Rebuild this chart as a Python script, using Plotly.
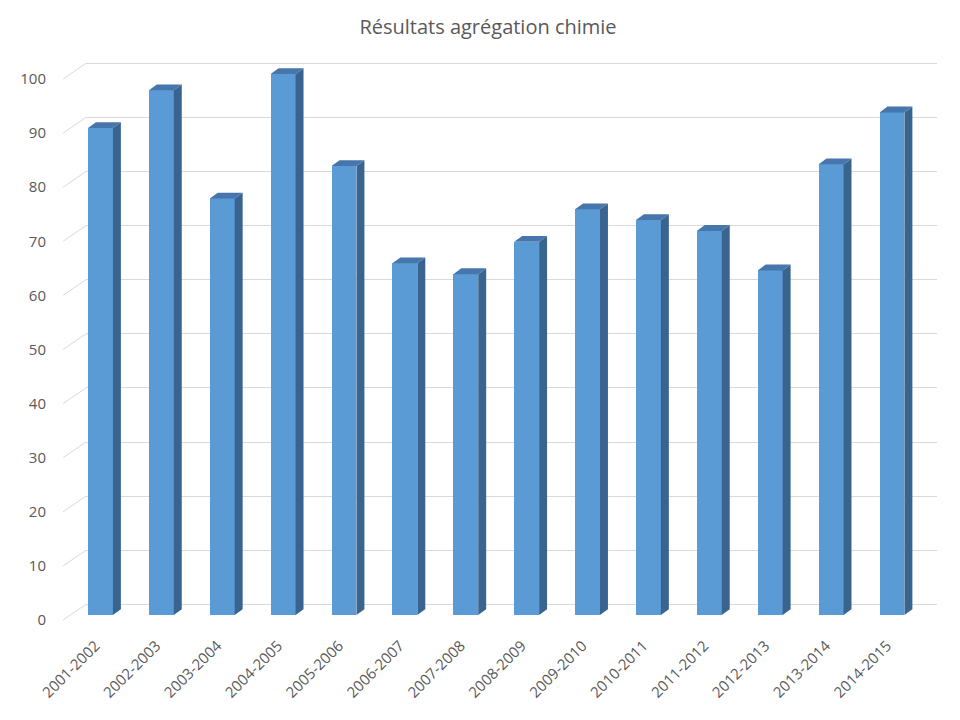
import plotly.graph_objects as go

# ---- data ----
categories = ["2001-2002", "2002-2003", "2003-2004", "2004-2005", "2005-2006",
              "2006-2007", "2007-2008", "2008-2009", "2009-2010", "2010-2011",
              "2011-2012", "2012-2013", "2013-2014", "2014-2015"]
values = [90, 97, 77, 100, 83, 65, 63, 69, 75, 73, 71, 63.7, 83.3, 92.9]
y_ticks = list(range(0, 101, 10))
title_text = "Résultats agrégation chimie"

# ---- geometry (pixel-based layout of the pseudo-3D look) ----
OFF = 8                      # page body margin offset
W, H = 960, 720
L = 83 - OFF
T = 55 - OFF
R = W - (937 - OFF)
B = H - (630 - OFF)
plot_w = W - L - R
plot_h = H - T - B
px_per_unit = 5.41          # vertical pixels per value unit
px_per_cat = 61.1           # horizontal pixels per category
bar_px = 25
depth_dx_px, depth_dy_px = 8, 5.8

bar_zero_px = 615 - OFF     # screen y of value 0 on the bar front face
back_zero_px = 604.3 - OFF  # back wall
front_zero_px = 620 - OFF   # front edge (labels)

def axis_range(zero_px):
    lo = -(T + plot_h - zero_px) / px_per_unit
    hi = (zero_px - T) / px_per_unit
    return [lo, hi]

x0_units = -(97.5 - OFF - L) / px_per_cat
x_range = [x0_units, x0_units + plot_w / px_per_cat]

xs = list(range(len(categories)))
bw = bar_px / px_per_cat
ddx = depth_dx_px / px_per_cat
ddy = depth_dy_px / px_per_unit
label_shift = 5 / px_per_cat

front_col = "#5B9BD5"
side_col = "#3A6490"
top_col = "#4676AB"

fig = go.Figure()

# back-wall gridlines (axis y2) and front labels (axis y3)
fig.add_trace(go.Scatter(x=[None], y=[None], yaxis="y2", showlegend=False, hoverinfo="skip"))
fig.add_trace(go.Scatter(x=[None], y=[None], yaxis="y3", showlegend=False, hoverinfo="skip"))

# side faces and top faces (computed from values)
side_x, side_y, top_x, top_y = [], [], [], []
for x, v in zip(xs, values):
    xr = x + bw / 2
    xl = x - bw / 2
    side_x += [xr, xr + ddx, xr + ddx, xr, xr, None]
    side_y += [0, ddy, v + ddy, v, 0, None]
    top_x += [xl, xr, xr + ddx, xl + ddx, xl, None]
    top_y += [v, v, v + ddy, v + ddy, v, None]

fig.add_trace(go.Scatter(x=side_x, y=side_y, mode="lines", fill="toself",
                         fillcolor=side_col, line=dict(width=0, color=side_col),
                         showlegend=False, hoverinfo="skip"))
fig.add_trace(go.Scatter(x=top_x, y=top_y, mode="lines", fill="toself",
                         fillcolor=top_col, line=dict(width=0, color=top_col),
                         showlegend=False, hoverinfo="skip"))
fig.add_trace(go.Bar(x=xs, y=values, width=bw, marker=dict(color=front_col, line=dict(width=0)),
                     showlegend=False, hovertext=categories))

# diagonal side-wall lines for each gridline
front_off = -(front_zero_px - bar_zero_px) / px_per_unit
back_off = (bar_zero_px - back_zero_px) / px_per_unit
for t in y_ticks:
    fig.add_shape(type="line", xref="paper", yref="y",
                  x0=-(L - (60 - OFF)) / plot_w, x1=0,
                  y0=t + front_off, y1=t + back_off,
                  line=dict(color="#D9D9D9", width=1), layer="below")

font_col = "#595959"
fig.update_layout(
    width=W, height=H,
    margin=dict(l=L, r=R, t=T, b=B),
    paper_bgcolor="white", plot_bgcolor="white",
    font=dict(family="Open Sans", color=font_col),
    title=dict(text=title_text, x=0.5, xanchor="center", y=1 - (27 - OFF) / H, yanchor="middle",
               font=dict(size=20, color=font_col, family="Open Sans")),
    bargap=0,
    xaxis=dict(range=x_range, tickvals=[x - label_shift for x in xs], ticktext=categories,
               tickangle=-45, showgrid=False, zeroline=False, showline=False, ticks="",
               ticklabelstandoff=3, tickfont=dict(size=15, color=font_col)),
    yaxis=dict(range=axis_range(bar_zero_px), showgrid=False, zeroline=False,
               showticklabels=False, showline=False, ticks=""),
    yaxis2=dict(range=axis_range(back_zero_px), overlaying="y", tickvals=y_ticks,
                showgrid=True, gridcolor="#D9D9D9", gridwidth=1, zeroline=False,
                showticklabels=False, showline=False, ticks=""),
    yaxis3=dict(range=axis_range(front_zero_px), overlaying="y", tickvals=y_ticks,
                showgrid=False, zeroline=False, showline=False, ticks="",
                ticklabelstandoff=L - (44 - OFF), tickfont=dict(size=15, color=font_col)),
)

fig.write_html("out.html")
